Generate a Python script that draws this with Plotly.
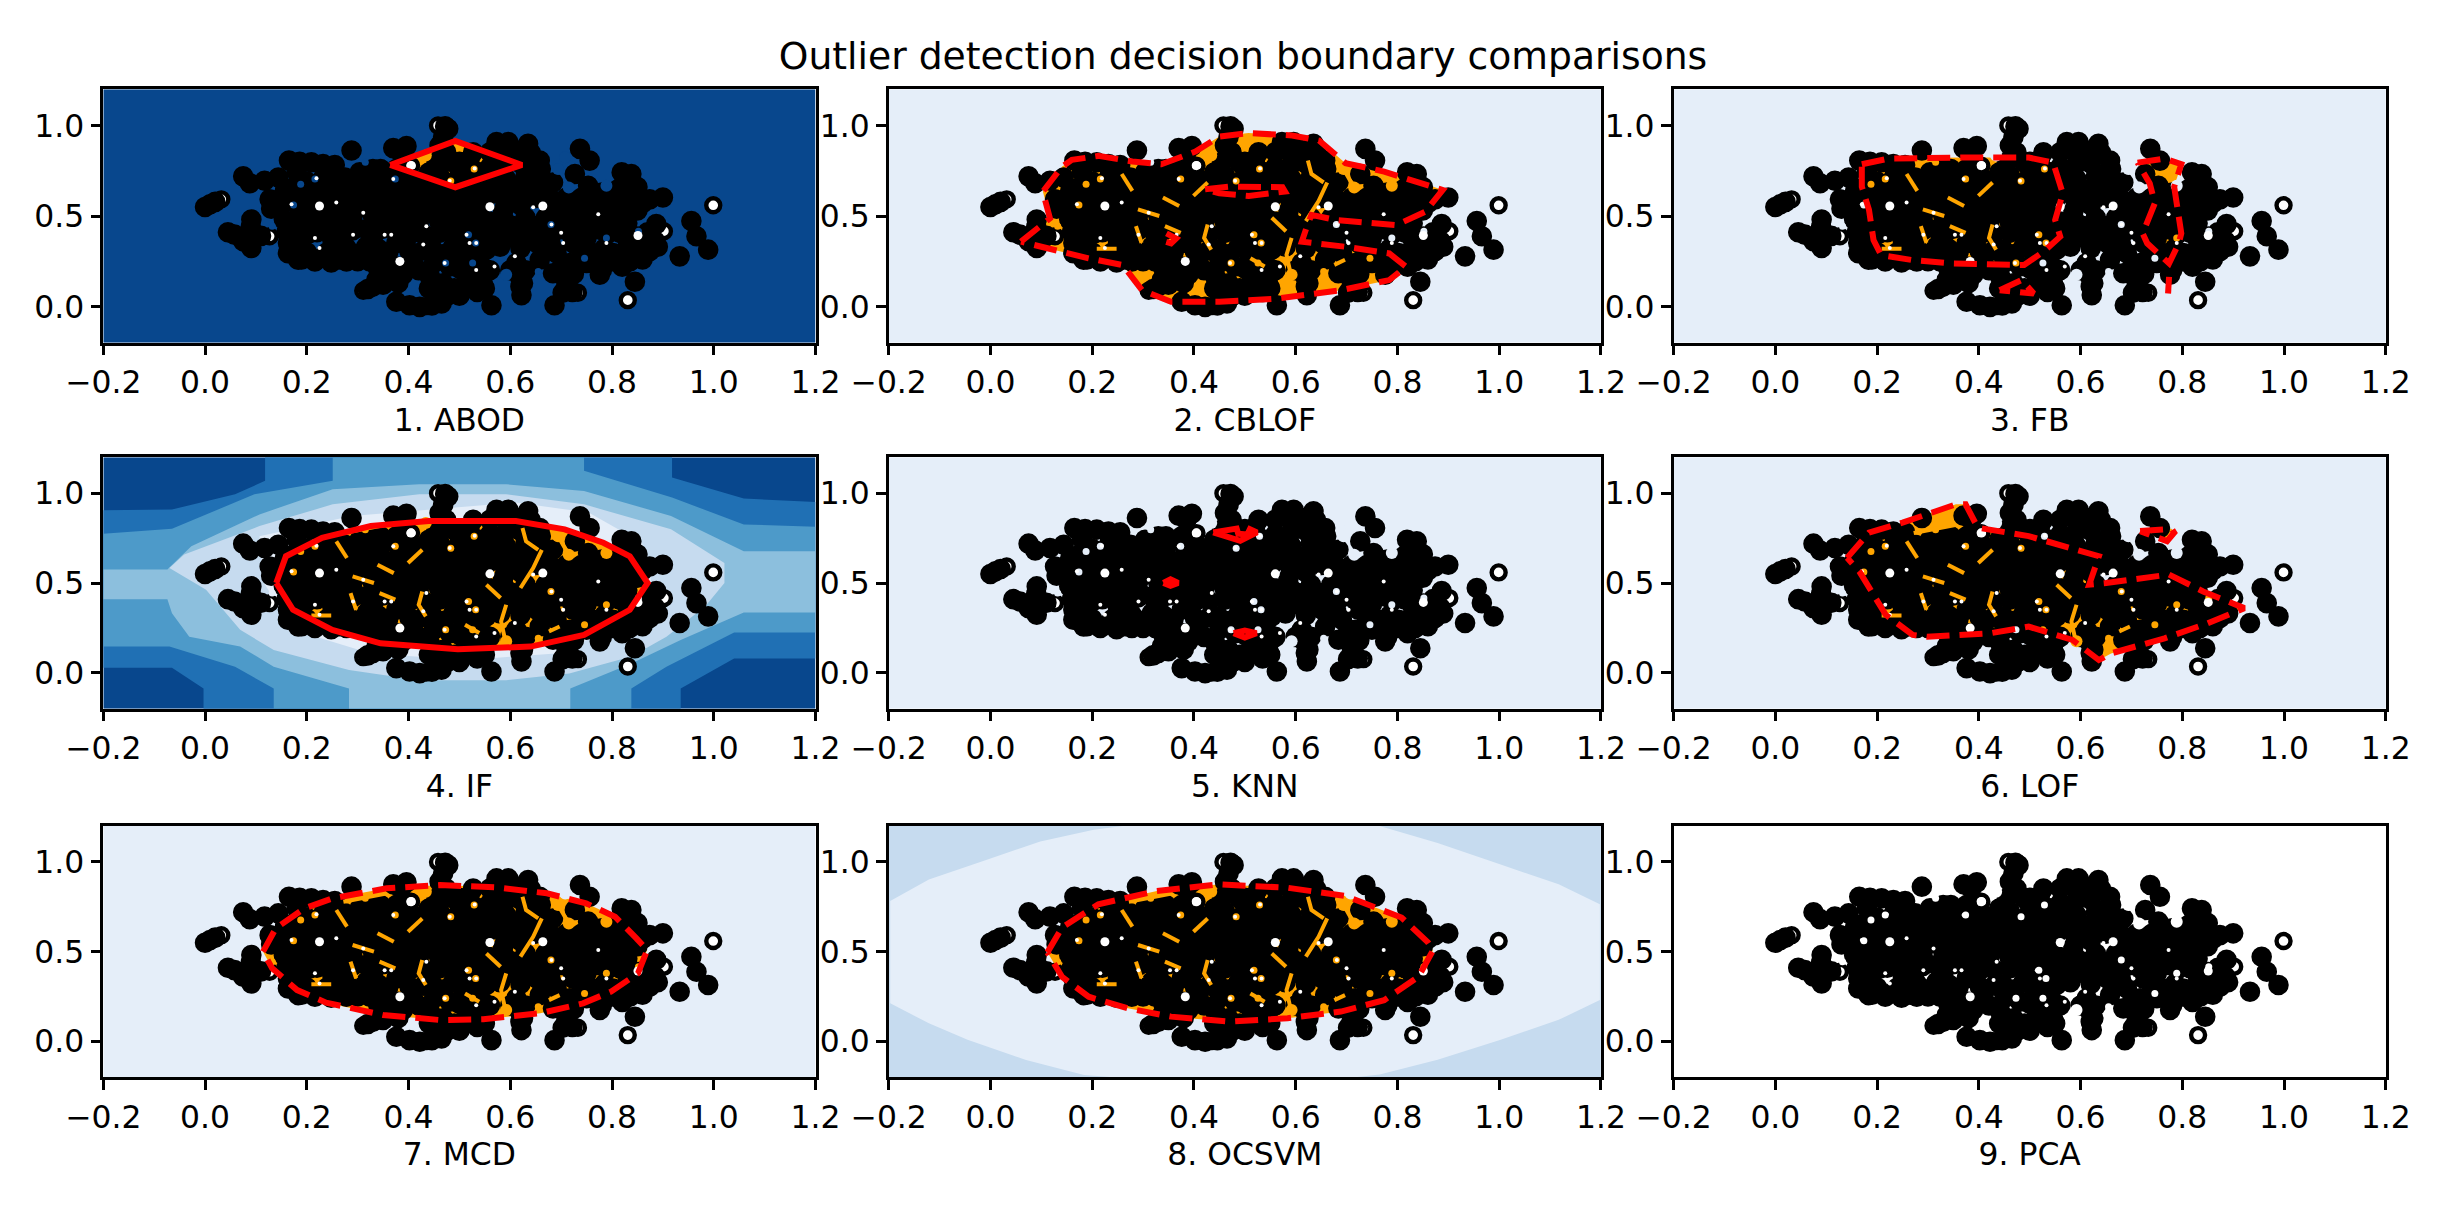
import plotly.graph_objects as go

FIG_W, FIG_H = 2443, 1209
TITLE = "Outlier detection decision boundary comparisons"
PANEL_NAMES = ["1. ABOD", "2. CBLOF", "3. FB", "4. IF", "5. KNN", "6. LOF", "7. MCD", "8. OCSVM", "9. PCA"]
X_TICKS = [-0.2, 0.0, 0.2, 0.4, 0.6, 0.8, 1.0, 1.2]
Y_TICKS = [0.0, 0.5, 1.0]
FRAME = [(-0.2, -0.2), (1.2, -0.2), (1.2, 1.2), (-0.2, 1.2)]

# points (solid black ones)
black_points = [
    (0.01, 0.565), (0.0, 0.55), (0.02, 0.578), (0.075, 0.719), (0.088, 0.681), (0.117, 0.695), (0.144, 0.713),
    (0.165, 0.806), (0.186, 0.8), (0.209, 0.797), (0.232, 0.787), (0.255, 0.782), (0.288, 0.862),
    (0.37, 0.875), (0.396, 0.886), (0.385, 0.85), (0.18, 0.745), (0.235, 0.75), (0.127, 0.592), (0.157, 0.639),
    (0.186, 0.62), (0.216, 0.62), (0.248, 0.63), (0.147, 0.546), (0.186, 0.518), (0.199, 0.537),
    (0.245, 0.509), (0.271, 0.518), (0.091, 0.481), (0.058, 0.397), (0.091, 0.397), (0.091, 0.323),
    (0.173, 0.444), (0.206, 0.453), (0.239, 0.444), (0.268, 0.444), (0.163, 0.351), (0.268, 0.36),
    (0.18, 0.305), (0.163, 0.295), (0.183, 0.258), (0.216, 0.249), (0.248, 0.243), (0.278, 0.249),
    (0.278, 0.323), (0.265, 0.295), (0.205, 0.405), (0.25, 0.395),
    (0.275, 0.713), (0.304, 0.741), (0.33, 0.76), (0.376, 0.76), (0.353, 0.732), (0.294, 0.657), (0.324, 0.667),
    (0.383, 0.667), (0.409, 0.704), (0.317, 0.574), (0.284, 0.574), (0.363, 0.62), (0.389, 0.592),
    (0.422, 0.592), (0.435, 0.685), (0.461, 0.722), (0.488, 0.685), (0.461, 0.63), (0.494, 0.611),
    (0.317, 0.425), (0.343, 0.481), (0.376, 0.5), (0.409, 0.5), (0.442, 0.518), (0.474, 0.518),
    (0.317, 0.332), (0.376, 0.351), (0.402, 0.397), (0.402, 0.305), (0.461, 0.407), (0.494, 0.444),
    (0.488, 0.332), (0.448, 0.314), (0.324, 0.249), (0.356, 0.24), (0.409, 0.24), (0.481, 0.221),
    (0.337, 0.147), (0.36, 0.147), (0.389, 0.175), (0.442, 0.165), (0.468, 0.128), (0.33, 0.11), (0.32, 0.097),
    (0.376, 0.026), (0.402, 0.007), (0.422, -0.002), (0.465, 0.017), (0.478, 0.063), (0.448, 0.017),
    (0.478, 0.982), (0.472, 0.995), (0.468, 0.936), (0.461, 0.89), (0.474, 0.852), (0.488, 0.797), (0.455, 0.797),
    (0.527, 0.852), (0.56, 0.852), (0.573, 0.908), (0.596, 0.908), (0.635, 0.899), (0.612, 0.862), (0.658, 0.806),
    (0.54, 0.741), (0.514, 0.704), (0.546, 0.676), (0.592, 0.704), (0.618, 0.648), (0.599, 0.63),
    (0.684, 0.685), (0.681, 0.592), (0.737, 0.871), (0.756, 0.806), (0.727, 0.732), (0.753, 0.667),
    (0.763, 0.602), (0.819, 0.741), (0.838, 0.732), (0.812, 0.648), (0.848, 0.62), (0.874, 0.592),
    (0.9, 0.602), (0.795, 0.592), (0.73, 0.537), (0.697, 0.556), (0.763, 0.5), (0.802, 0.5), (0.828, 0.537),
    (0.514, 0.592), (0.54, 0.5), (0.586, 0.527), (0.606, 0.444), (0.652, 0.444), (0.704, 0.425),
    (0.743, 0.462), (0.775, 0.425), (0.815, 0.407), (0.514, 0.5), (0.566, 0.407), (0.553, 0.314),
    (0.612, 0.37), (0.652, 0.351), (0.658, 0.258), (0.612, 0.24), (0.619, 0.165), (0.625, 0.128),
    (0.622, 0.063), (0.563, 0.007), (0.687, 0.007), (0.703, 0.076), (0.722, 0.08), (0.71, 0.147), (0.684, 0.184),
    (0.717, 0.24), (0.691, 0.295), (0.723, 0.351), (0.776, 0.175), (0.835, 0.249), (0.845, 0.137),
    (0.763, 0.295), (0.802, 0.295), (0.828, 0.314), (0.867, 0.351), (0.874, 0.305), (0.887, 0.455),
    (0.857, 0.305), (0.956, 0.472), (0.966, 0.388), (0.989, 0.314), (0.933, 0.277),
    (0.54, 0.165), (0.514, 0.147), (0.546, 0.128), (0.507, 0.295), (0.507, 0.407), (0.446, 0.006),
    # further points hidden inside the dense mass
    (0.345, 0.76), (0.2, 0.69), (0.23, 0.7), (0.26, 0.69), (0.31, 0.7), (0.345, 0.7), (0.38, 0.71), (0.41, 0.65),
    (0.44, 0.74), (0.5, 0.76), (0.52, 0.78), (0.56, 0.77), (0.59, 0.78), (0.62, 0.79), (0.65, 0.74), (0.57, 0.72),
    (0.63, 0.72), (0.15, 0.6), (0.175, 0.66), (0.215, 0.66), (0.27, 0.63), (0.3, 0.6), (0.33, 0.62), (0.35, 0.59),
    (0.41, 0.62), (0.44, 0.64), (0.48, 0.64), (0.52, 0.64), (0.56, 0.62), (0.57, 0.66), (0.65, 0.63), (0.66, 0.68),
    (0.71, 0.6), (0.74, 0.6), (0.78, 0.63), (0.83, 0.66), (0.82, 0.59), (0.86, 0.57), (0.85, 0.66),
    (0.13, 0.54), (0.16, 0.58), (0.22, 0.6), (0.25, 0.56), (0.28, 0.53), (0.3, 0.54), (0.34, 0.55), (0.37, 0.55),
    (0.4, 0.55), (0.43, 0.55), (0.46, 0.56), (0.49, 0.56), (0.52, 0.55), (0.55, 0.59), (0.59, 0.58), (0.62, 0.56),
    (0.65, 0.6), (0.7, 0.51), (0.76, 0.55), (0.79, 0.54), (0.82, 0.56), (0.85, 0.53), (0.72, 0.49),
    (0.155, 0.48), (0.18, 0.47), (0.22, 0.48), (0.25, 0.47), (0.29, 0.47), (0.33, 0.5), (0.36, 0.45), (0.39, 0.45),
    (0.42, 0.46), (0.46, 0.47), (0.5, 0.46), (0.53, 0.46), (0.56, 0.47), (0.59, 0.47), (0.63, 0.49), (0.67, 0.49),
    (0.7, 0.46), (0.73, 0.49), (0.79, 0.47), (0.83, 0.46), (0.81, 0.52),
    (0.16, 0.41), (0.185, 0.38), (0.22, 0.41), (0.25, 0.37), (0.29, 0.42), (0.33, 0.38), (0.35, 0.43), (0.38, 0.41),
    (0.43, 0.4), (0.49, 0.39), (0.52, 0.42), (0.54, 0.41), (0.59, 0.4), (0.63, 0.39), (0.68, 0.39), (0.72, 0.4),
    (0.75, 0.38), (0.79, 0.4), (0.83, 0.37), (0.87, 0.41), (0.885, 0.36), (0.045, 0.41), (0.075, 0.36), (0.11, 0.39),
    (0.09, 0.44),
    (0.2, 0.3), (0.24, 0.3), (0.3, 0.29), (0.34, 0.32), (0.36, 0.3), (0.43, 0.31), (0.47, 0.29), (0.52, 0.32),
    (0.58, 0.33), (0.62, 0.32), (0.68, 0.34), (0.74, 0.3), (0.785, 0.32), (0.79, 0.26), (0.84, 0.3), (0.86, 0.26),
    (0.89, 0.33),
    (0.19, 0.26), (0.23, 0.27), (0.265, 0.26), (0.3, 0.25), (0.34, 0.21), (0.38, 0.22), (0.42, 0.2), (0.45, 0.24),
    (0.5, 0.21), (0.53, 0.24), (0.56, 0.2), (0.52, 0.17), (0.55, 0.21), (0.63, 0.2), (0.6, 0.2), (0.7, 0.21),
    (0.75, 0.24), (0.8, 0.25), (0.82, 0.22),
    (0.35, 0.12), (0.38, 0.13), (0.45, 0.13), (0.49, 0.1), (0.52, 0.11), (0.55, 0.1), (0.535, 0.08), (0.5, 0.06),
    (0.47, 0.08), (0.44, 0.1), (0.62, 0.11), (0.71, 0.11), (0.725, 0.18), (0.78, 0.2),
    (0.5, 0.8), (0.52, 0.81), (0.6, 0.85), (0.64, 0.85), (0.66, 0.76), (0.58, 0.87),
]
# white points with a black ring, under the black ones
ring_points = [
    (0.032, 0.592), (0.127, 0.388), (0.311, 0.087), (0.435, 0.002), (0.458, 1.0), (0.405, 0.778),
    (0.999, 0.559), (0.831, 0.035), (0.733, 0.076), (0.851, 0.392), (0.902, 0.416),
]
# white specks left between the black points
large_specks = [(0.225, 0.555), (0.56, 0.551), (0.664, 0.555), (0.383, 0.249), (0.405, 0.778), (0.851, 0.392)]
small_specks = [
    (0.258, 0.574), (0.17, 0.565), (0.219, 0.708), (0.291, 0.397), (0.311, 0.518), (0.225, 0.323),
    (0.216, 0.379), (0.353, 0.397), (0.366, 0.397), (0.471, 0.24), (0.435, 0.444), (0.429, 0.342),
    (0.481, 0.695), (0.37, 0.704), (0.645, 0.548), (0.773, 0.509), (0.789, 0.351), (0.681, 0.453),
    (0.7, 0.407), (0.704, 0.351), (0.609, 0.277), (0.52, 0.351), (0.533, 0.351), (0.569, 0.221),
    (0.533, 0.202), (0.514, 0.397), (0.53, 0.763),
]
# gaps between the black points, through which the background shows
wide_gaps = [(0.715, 0.657), (0.694, 0.76), (0.434, 0.834), (0.708, 0.824), (0.789, 0.667), (0.592, 0.175)]
thin_gaps = [
    (0.216, 0.704), (0.188, 0.676), (0.374, 0.704), (0.483, 0.694), (0.529, 0.76), (0.315, 0.797), (0.174, 0.561),
    (0.473, 0.24), (0.526, 0.24), (0.655, 0.193), (0.746, 0.267), (0.789, 0.379), (0.68, 0.453), (0.518, 0.397),
    (0.532, 0.351), (0.852, 0.416), (0.132, 0.444),
]
gap_streaks = [
    [(0.427, 0.453), (0.42, 0.379), (0.434, 0.314)],
    [(0.592, 0.379), (0.582, 0.286), (0.592, 0.156)],
    [(0.662, 0.685), (0.645, 0.583), (0.62, 0.472)],
    [(0.624, 0.806), (0.631, 0.732), (0.655, 0.685)],
    [(0.286, 0.444), (0.297, 0.351)],
    [(0.29, 0.537), (0.332, 0.5)],
    [(0.339, 0.602), (0.371, 0.555)],
    [(0.343, 0.444), (0.374, 0.407)],
    [(0.209, 0.319), (0.248, 0.319)],
    [(0.258, 0.732), (0.279, 0.639)],
    [(0.272, 0.778), (0.356, 0.824)],
    [(0.399, 0.611), (0.427, 0.685)],
    [(0.694, 0.76), (0.715, 0.657)],
    [(0.553, 0.49), (0.581, 0.416)],
    [(0.511, 0.267), (0.539, 0.221)],
    [(0.676, 0.23), (0.697, 0.258)],
]

# decision boundaries
abod_boundary = [(0.364, 0.782), (0.492, 0.915), (0.623, 0.782), (0.492, 0.659)]
cblof_boundary = [
    (0.06, 0.358), (0.117, 0.487), (0.103, 0.635), (0.141, 0.773), (0.16, 0.81), (0.212, 0.832), (0.279, 0.801),
    (0.336, 0.786), (0.403, 0.856), (0.45, 0.939), (0.507, 0.958), (0.593, 0.945), (0.646, 0.917), (0.698, 0.792),
    (0.774, 0.745), (0.841, 0.69), (0.889, 0.644), (0.855, 0.524), (0.798, 0.45), (0.679, 0.478), (0.631, 0.506),
    (0.622, 0.441), (0.612, 0.358), (0.698, 0.33), (0.784, 0.293), (0.817, 0.22), (0.784, 0.146), (0.689, 0.09),
    (0.565, 0.044), (0.45, 0.026), (0.355, 0.026), (0.298, 0.09), (0.26, 0.229), (0.193, 0.266), (0.127, 0.312),
]
cblof_hole = [(0.422, 0.648), (0.47, 0.662), (0.574, 0.659), (0.579, 0.635), (0.508, 0.611), (0.45, 0.625)]
cblof_spot = [(0.346, 0.404), (0.365, 0.376), (0.355, 0.349), (0.344, 0.358)]
fb_main = [
    (0.17, 0.786), (0.222, 0.817), (0.365, 0.823), (0.498, 0.823), (0.546, 0.795), (0.565, 0.625), (0.55, 0.478),
    (0.56, 0.386), (0.527, 0.303), (0.489, 0.229), (0.346, 0.238), (0.27, 0.256), (0.208, 0.284), (0.193, 0.367),
    (0.184, 0.535), (0.17, 0.662),
]
fb_right = [
    (0.712, 0.795), (0.765, 0.817), (0.798, 0.786), (0.784, 0.662), (0.798, 0.404), (0.793, 0.349), (0.774, 0.238),
    (0.731, 0.349), (0.722, 0.404), (0.746, 0.57), (0.736, 0.68),
]
fb_tail = [(0.772, 0.072), (0.774, 0.164)]
fb_low = [(0.441, 0.09), (0.484, 0.146), (0.508, 0.072)]
if_boundary = [
    (0.14, 0.5), (0.159, 0.649), (0.23, 0.752), (0.326, 0.817), (0.44, 0.845), (0.611, 0.845), (0.707, 0.799),
    (0.783, 0.724), (0.835, 0.649), (0.87, 0.5), (0.835, 0.351), (0.745, 0.211), (0.64, 0.146), (0.497, 0.131),
    (0.345, 0.164), (0.25, 0.239), (0.173, 0.351),
]
knn_top = [(0.438, 0.782), (0.484, 0.803), (0.487, 0.775), (0.505, 0.77), (0.51, 0.8), (0.524, 0.782), (0.491, 0.735), (0.468, 0.758)]
knn_mid = [(0.34, 0.5), (0.354, 0.52), (0.369, 0.5), (0.354, 0.485)]
knn_low = [(0.478, 0.22), (0.5, 0.235), (0.523, 0.22), (0.5, 0.196)]
lof_main = [
    (0.141, 0.64), (0.184, 0.78), (0.25, 0.836), (0.355, 0.938), (0.374, 0.938), (0.398, 0.808), (0.498, 0.761),
    (0.565, 0.705), (0.636, 0.649), (0.617, 0.491), (0.65, 0.5), (0.774, 0.547), (0.841, 0.453), (0.922, 0.36),
    (0.85, 0.276), (0.765, 0.192), (0.66, 0.108), (0.636, 0.071), (0.584, 0.183), (0.498, 0.257), (0.422, 0.22),
    (0.298, 0.201), (0.27, 0.211), (0.217, 0.323), (0.198, 0.416), (0.165, 0.565),
]
lof_small = [(0.717, 0.789), (0.779, 0.802), (0.784, 0.78), (0.77, 0.733)]
mcd_boundary = [
    (0.114, 0.5), (0.139, 0.63), (0.195, 0.741), (0.251, 0.797), (0.357, 0.853), (0.462, 0.871), (0.574, 0.858),
    (0.672, 0.825), (0.749, 0.769), (0.806, 0.695), (0.848, 0.574), (0.869, 0.509), (0.851, 0.379), (0.798, 0.277),
    (0.743, 0.212), (0.659, 0.157), (0.547, 0.123), (0.462, 0.119), (0.35, 0.147), (0.238, 0.216), (0.181, 0.286),
    (0.132, 0.407),
]
ocsvm_boundary = [
    (0.112, 0.496), (0.141, 0.635), (0.212, 0.764), (0.327, 0.838), (0.45, 0.875), (0.584, 0.856), (0.698, 0.81),
    (0.808, 0.69), (0.86, 0.552), (0.87, 0.507), (0.841, 0.359), (0.774, 0.23), (0.689, 0.166), (0.584, 0.129),
    (0.47, 0.11), (0.355, 0.138), (0.27, 0.184), (0.193, 0.249), (0.141, 0.359),
]

# filled score levels
if_level_1 = [
    (0.118, 1.2), (0.918, 1.2), (0.918, 1.088), (1.059, 0.97), (1.2, 0.951), (1.2, 0.08), (1.04, 0.08), (0.935, -0.088),
    (0.935, -0.2), (-0.003, -0.2), (-0.003, -0.088), (-0.065, 0.028), (-0.2, 0.028), (-0.2, 0.905), (-0.065, 0.91),
    (0.059, 0.994), (0.118, 1.069),
]
if_level_2 = [
    (0.251, 1.2), (0.745, 1.2), (0.745, 1.125), (0.918, 0.976), (1.059, 0.826), (1.2, 0.813), (1.2, 0.224), (1.04, 0.224),
    (0.907, 0.034), (0.838, -0.088), (0.838, -0.2), (0.135, -0.2), (0.135, -0.088), (0.059, 0.034), (-0.07, 0.146),
    (-0.2, 0.146), (-0.2, 0.774), (-0.065, 0.802), (0.097, 0.994), (0.251, 1.069),
]
if_level_3 = [
    (-0.2, 0.575), (-0.074, 0.575), (-0.027, 0.705), (0.107, 0.882), (0.251, 1.022), (0.421, 1.05), (0.592, 1.05),
    (0.745, 1.013), (0.916, 0.873), (1.059, 0.677), (1.2, 0.677), (1.2, 0.336), (1.059, 0.336), (0.935, 0.183),
    (0.838, 0.052), (0.718, -0.088), (0.718, -0.2), (0.283, -0.2), (0.283, -0.088), (0.135, 0.034), (0.069, 0.146),
    (-0.031, 0.201), (-0.065, 0.332), (-0.074, 0.41), (-0.2, 0.41),
]
if_level_4 = [
    (-0.07, 0.584), (-0.041, 0.659), (0.107, 0.817), (0.251, 0.938), (0.421, 0.994), (0.592, 0.994), (0.745, 0.938),
    (0.916, 0.799), (1.021, 0.612), (1.021, 0.5), (0.983, 0.369), (0.907, 0.201), (0.838, 0.09), (0.716, -0.004),
    (0.592, -0.041), (0.421, -0.041), (0.283, 0.015), (0.135, 0.127), (0.069, 0.239), (0.002, 0.463),
]
if_level_5 = [
    (0.107, 0.761), (0.288, 0.873), (0.611, 0.948), (0.754, 0.892), (0.859, 0.724), (0.878, 0.5), (0.83, 0.276),
    (0.688, 0.108), (0.516, 0.071), (0.326, 0.108), (0.173, 0.239), (0.116, 0.5),
]
ocsvm_inner = [
    (-0.197, 0.782), (-0.121, 0.902), (-0.007, 1.012), (0.098, 1.114), (0.203, 1.179), (0.26, 1.2), (0.765, 1.2),
    (0.879, 1.105), (1.003, 0.985), (1.117, 0.875), (1.198, 0.764), (1.198, 0.23), (1.117, 0.12), (1.003, 0.009),
    (0.879, -0.102), (0.765, -0.185), (0.717, -0.2), (0.241, -0.2), (0.184, -0.187), (0.07, -0.104), (-0.045, 0.009),
    (-0.121, 0.101), (-0.197, 0.212),
]

DARK, BLUE2, BLUE3, BLUE4, BLUE5, LIGHT = "#08478d", "#2070b4", "#4d9ac9", "#8cbfdd", "#c6dbef", "#e5eef9"
ORANGE, RED = "#ffa500", "#ff0000"

panels = [
    dict(base=DARK, gap=DARK, levels=[], fills=[abod_boundary], hole=[], lines=[abod_boundary], dash="solid"),
    dict(base=LIGHT, gap=LIGHT, levels=[], fills=[cblof_boundary], hole=[cblof_hole], lines=[cblof_boundary, cblof_hole, cblof_spot], dash="d"),
    dict(base=LIGHT, gap=LIGHT, levels=[], fills=[fb_main, fb_right, fb_low], hole=[], lines=[fb_main, fb_right, fb_tail, fb_low], dash="d"),
    dict(base=DARK, gap=LIGHT, levels=[(if_level_1, BLUE2), (if_level_2, BLUE3), (if_level_3, BLUE4), (if_level_4, BLUE5), (if_level_5, LIGHT)],
         fills=[if_boundary], hole=[], lines=[if_boundary], dash="solid"),
    dict(base=LIGHT, gap=LIGHT, levels=[], fills=[knn_top, knn_mid, knn_low], hole=[], lines=[knn_top, knn_mid, knn_low], dash="solid"),
    dict(base=LIGHT, gap=LIGHT, levels=[], fills=[lof_main, lof_small], hole=[], lines=[lof_main, lof_small], dash="d"),
    dict(base=LIGHT, gap=LIGHT, levels=[], fills=[mcd_boundary], hole=[], lines=[mcd_boundary], dash="d"),
    dict(base=BLUE5, gap=LIGHT, levels=[(ocsvm_inner, LIGHT)], fills=[ocsvm_boundary], hole=[], lines=[ocsvm_boundary], dash="d"),
    dict(base="#ffffff", gap="#ffffff", levels=[], fills=[], hole=[], lines=[], dash="solid"),
]

COL_L = [103.3, 888.7, 1673.6]
PANEL_W = 712.2
ROW_T = [89.3, 457.3, 826.0]
ROW_B = [342.7, 708.7, 1077.3]


def closed(pts):
    return pts + pts[:1]


def inside(pt, polygon):
    x, y = pt
    hit = False
    n = len(polygon)
    for i in range(n):
        x1, y1 = polygon[i]
        x2, y2 = polygon[(i + 1) % n]
        if (y1 > y) != (y2 > y) and x < x1 + (y - y1) / (y2 - y1) * (x2 - x1):
            hit = not hit
    return hit


def poly(pts, color, ax):
    p = closed(pts)
    return go.Scatter(x=[a for a, _ in p], y=[b for _, b in p], mode="lines", fill="toself", fillcolor=color,
                      line=dict(width=0), hoverinfo="skip", showlegend=False, xaxis=ax[0], yaxis=ax[1])


def points(pts, size, fill, lw, ax):
    return go.Scatter(x=[a for a, _ in pts], y=[b for _, b in pts], mode="markers",
                      marker=dict(size=size, color=fill, line=dict(color="black", width=lw)),
                      hoverinfo="skip", showlegend=False, xaxis=ax[0], yaxis=ax[1])


fig = go.Figure()
layout_axes = {}
for i, cfg in enumerate(panels):
    r, c = divmod(i, 3)
    sfx = "" if i == 0 else str(i + 1)
    ax = ("x" + sfx, "y" + sfx)
    fig.add_trace(poly(FRAME, cfg["base"], ax))
    for pts, col in cfg["levels"]:
        fig.add_trace(poly(pts, col, ax))
    for pts in cfg["fills"]:
        fig.add_trace(poly(pts, ORANGE, ax))
    for pts in cfg["hole"]:
        fig.add_trace(poly(pts, cfg["base"], ax))
    fig.add_trace(points(ring_points, 14, "white", 4.4, ax))
    fig.add_trace(points(black_points, 18, "black", 2.6, ax))
    for gaps, size in ((wide_gaps, 12), (thin_gaps, 7)):
        colors = [ORANGE if any(inside(g, f) for f in cfg["fills"]) else cfg["gap"] for g in gaps]
        fig.add_trace(go.Scatter(x=[a for a, _ in gaps], y=[b for _, b in gaps], mode="markers",
                                 marker=dict(size=size, color=colors), hoverinfo="skip", showlegend=False,
                                 xaxis=ax[0], yaxis=ax[1]))
    for streak in gap_streaks:
        mid = streak[len(streak) // 2]
        if not any(inside(mid, f) for f in cfg["fills"]):
            continue
        fig.add_trace(go.Scatter(x=[a for a, _ in streak], y=[b for _, b in streak], mode="lines",
                                 line=dict(color=ORANGE, width=4), hoverinfo="skip", showlegend=False,
                                 xaxis=ax[0], yaxis=ax[1]))
    for specks, size in ((large_specks, 9), (small_specks, 4)):
        fig.add_trace(go.Scatter(x=[a for a, _ in specks], y=[b for _, b in specks], mode="markers",
                                 marker=dict(size=size, color="white"), hoverinfo="skip", showlegend=False,
                                 xaxis=ax[0], yaxis=ax[1]))
    for pts in cfg["lines"]:
        p = pts if pts is fb_tail else closed(pts)
        fig.add_trace(go.Scatter(x=[a for a, _ in p], y=[b for _, b in p], mode="lines",
                                 line=dict(color=RED, width=6, dash="23px,10px" if cfg["dash"] == "d" else "solid"),
                                 hoverinfo="skip", showlegend=False, xaxis=ax[0], yaxis=ax[1]))
    common = dict(range=[-0.2, 1.2], automargin=False, showgrid=False, zeroline=False, showline=True, mirror=True,
                  linecolor="black", linewidth=2.5, ticks="outside", ticklen=10, tickwidth=2.5, tickcolor="black",
                  tickfont=dict(family="DejaVu Sans", size=31.4, color="black"), tickformat=".1f")
    layout_axes["xaxis" + sfx] = dict(common, domain=[COL_L[c] / FIG_W, (COL_L[c] + PANEL_W) / FIG_W],
                                      anchor=ax[1], tickmode="array", tickvals=X_TICKS,
                                      title=dict(text=PANEL_NAMES[i], standoff=10,
                                                 font=dict(family="DejaVu Sans", size=31.4, color="black")))
    layout_axes["yaxis" + sfx] = dict(common, domain=[1 - ROW_B[r] / FIG_H, 1 - ROW_T[r] / FIG_H],
                                      anchor=ax[0], tickmode="array", tickvals=Y_TICKS)

fig.update_layout(width=FIG_W, height=FIG_H, margin=dict(l=0, r=0, t=0, b=0), paper_bgcolor="white",
                  plot_bgcolor="white", showlegend=False,
                  title=dict(text=TITLE, x=1243 / FIG_W, xanchor="center", y=1 - 56 / FIG_H, yanchor="middle",
                             font=dict(family="DejaVu Sans", size=37.7, color="black")),
                  **layout_axes)
fig.write_html("out.html", config={"displayModeBar": False},
               post_script="document.body.style.margin='0';document.body.style.overflow='hidden';window.dispatchEvent(new Event('resize'));")
